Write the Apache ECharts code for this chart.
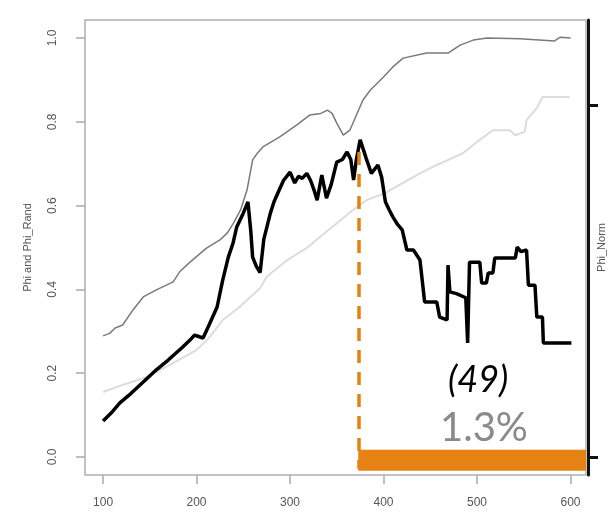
<!DOCTYPE html>
<html>
<head>
<meta charset="utf-8">
<script src="https://cdn.jsdelivr.net/npm/echarts@6/dist/echarts.min.js"></script>
<style>
  html, body { margin: 0; padding: 0; background: #fff; }
  #main { width: 608px; height: 524px; }
</style>
</head>
<body>
<div id="main"></div>
<script>
// Phi (thick black)
var phiX = [100,110,118,130,145,157,170,185,193,198,203,207,214,222,228,234,239,243,250,255,258,260,264,268,272,279,283,287,293,300,305,309,313,318,322,326,329,334,339,344,350,356,361,365,368,371,375,379,382,387,394,398,402,406,410,415,420,425,432,439,444,457,460,468,469,471,478,488,490,492,494,503,505,510,512,517,519,541,543,547,553,555,562,564,570,571,601];
var phiY = [0.086,0.108,0.129,0.152,0.183,0.208,0.232,0.262,0.279,0.291,0.287,0.284,0.318,0.358,0.422,0.477,0.51,0.549,0.582,0.609,0.54,0.477,0.455,0.44,0.52,0.582,0.61,0.63,0.66,0.68,0.654,0.67,0.665,0.677,0.66,0.635,0.613,0.673,0.618,0.65,0.704,0.71,0.728,0.71,0.661,0.71,0.757,0.73,0.709,0.677,0.697,0.668,0.609,0.59,0.573,0.555,0.542,0.494,0.494,0.47,0.37,0.37,0.334,0.327,0.458,0.394,0.39,0.38,0.272,0.465,0.465,0.465,0.415,0.415,0.439,0.439,0.475,0.475,0.501,0.49,0.494,0.41,0.41,0.334,0.334,0.272,0.272];

// Phi_Rand (thin dark grey, upper)
var randX = [100,107,113,121,132,143,157,175,182,193,211,225,233,240,247,254,260,265,271,289,307,321,333,340,345,350,357,364,372,378,386,400,410,421,446,469,482,496,511,546,583,589,600];
var randY = [0.289,0.295,0.308,0.315,0.351,0.382,0.399,0.418,0.442,0.465,0.499,0.518,0.535,0.56,0.589,0.637,0.709,0.725,0.74,0.764,0.792,0.816,0.82,0.828,0.82,0.797,0.768,0.78,0.821,0.852,0.876,0.907,0.931,0.952,0.964,0.964,0.983,0.995,1.0,0.998,0.993,1.002,1.0];

// Phi_Norm (light grey)
var normX = [100,121,147,175,200,214,228,246,268,275,297,318,332,350,367,382,404,407,439,457,485,500,517,535,541,551,553,564,570,599];
var normY = [0.155,0.172,0.191,0.224,0.255,0.286,0.327,0.358,0.403,0.43,0.47,0.499,0.525,0.558,0.589,0.613,0.632,0.637,0.677,0.697,0.725,0.752,0.78,0.78,0.768,0.776,0.804,0.833,0.859,0.859];

var xTicks = [100,200,300,400,500,600];
var yTicks = [0,0.2,0.4,0.6,0.8,1.0];
var normTicks = [0,0.84];

// cut-off annotation
var cutX = 373;
var cutTop = 0.728;
var barY = [-0.033, 0.017];
var annoCount = '(49)';
var annoPct = '1.3%';

function pairs(xs, ys) {
  var out = [];
  for (var i = 0; i < xs.length; i++) out.push([xs[i], ys[i]]);
  return out;
}

var xMin = 80.7, xMax = 616.6, yMin = -0.043, yMax = 1.043;

var myChart = echarts.init(document.getElementById('main'));
var option = {
  animation: false,
  grid: { left: 85, right: 22, top: 20, bottom: 49, show: true, borderColor: '#b0b0b0', borderWidth: 1.5,
    containLabel: false, outerBoundsMode: 'none' },
  xAxis: {
    type: 'value', min: xMin, max: xMax,
    splitLine: { show: false },
    axisLine: { show: false, onZero: false },
    axisTick: { customValues: xTicks, length: 9, lineStyle: { color: '#aaa', width: 1.5 } },
    axisLabel: { customValues: xTicks, margin: 22, color: '#555', fontSize: 12, fontFamily: 'Liberation Sans' }
  },
  yAxis: [{
    type: 'value', min: yMin, max: yMax,
    splitLine: { show: false },
    axisLine: { show: false, onZero: false },
    axisTick: { customValues: yTicks, length: 9, lineStyle: { color: '#aaa', width: 1.5 } },
    axisLabel: { customValues: yTicks, rotate: 90, margin: 26, color: '#555', fontSize: 12, fontFamily: 'Liberation Sans',
      formatter: function (v) { return v.toFixed(1); } },
    name: 'Phi and Phi_Rand', nameLocation: 'middle', nameGap: 52,
    nameTextStyle: { color: '#555', fontSize: 11, fontFamily: 'Liberation Sans' }
  }, {
    type: 'value', min: yMin, max: yMax, position: 'right', offset: 2,
    splitLine: { show: false },
    axisLine: { show: true, onZero: false, lineStyle: { color: '#111', width: 3 } },
    axisTick: { customValues: normTicks, length: 10, lineStyle: { color: '#111', width: 3 } },
    axisLabel: { show: false },
    name: 'Phi_Norm', nameLocation: 'middle', nameGap: 8,
    nameTextStyle: { color: '#555', fontSize: 11, fontFamily: 'Liberation Sans' }
  }],
  series: [{
    name: 'Phi_Norm', type: 'line', data: pairs(normX, normY), showSymbol: false,
    lineStyle: { color: '#dcdcdc', width: 2 }
  }, {
    name: 'Phi_Rand', type: 'line', data: pairs(randX, randY), showSymbol: false,
    lineStyle: { color: '#7a7a7a', width: 1.5 }
  }, {
    name: 'Phi', type: 'line', data: pairs(phiX, phiY), showSymbol: false,
    lineStyle: { color: '#000', width: 3.5 }
  }, {
    name: 'cut', type: 'line', data: [], z: 5,
    markLine: {
      silent: true, symbol: 'none', label: { show: false },
      lineStyle: { color: '#E5820F', width: 3.5, type: [13, 9] },
      data: [[{ coord: [cutX, cutTop] }, { coord: [cutX, barY[0] + 0.005] }]]
    },
    markArea: {
      silent: true,
      itemStyle: { color: '#E58213', borderRadius: 2 },
      data: [[{ coord: [cutX, barY[0]] }, { coord: [xMax, barY[1]] }]]
    }
  }],
  graphic: [{
    type: 'text', left: 448, top: 362,
    style: { text: annoCount, fill: '#000', font: 'italic 36px Lato' }
  }, {
    type: 'text', left: 440, top: 408,
    style: { text: annoPct, fill: '#8a8a8a', font: '40px Lato' }
  }]
};
myChart.setOption(option);
</script>
</body>
</html>
